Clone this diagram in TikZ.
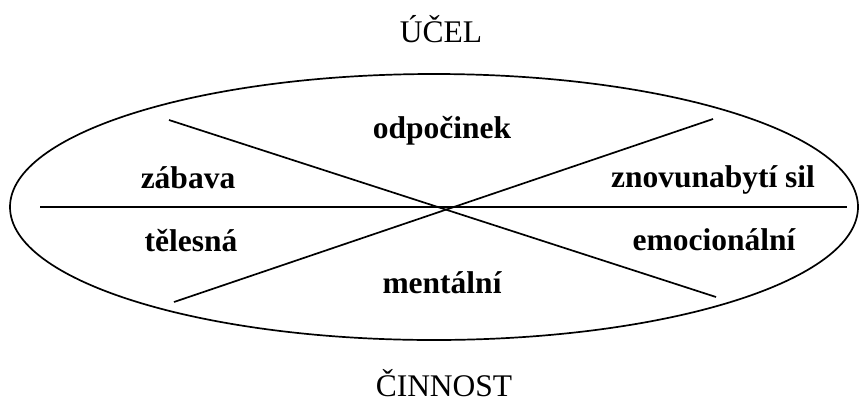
\documentclass[tikz,border=0pt]{standalone}
\usepackage{fontspec}
\setmainfont{Liberation Serif}
\begin{document}
\begin{tikzpicture}[x=1pt,y=-1pt,
  line/.style={line width=1.7pt, line cap=butt},
  lab/.style={anchor=base, inner sep=0pt, font=\fontsize{31.5}{36}\selectfont\bfseries},
  title/.style={anchor=base, inner sep=0pt, font=\fontsize{31.5}{36}\selectfont}]
\useasboundingbox (0,0) rectangle (859,400);
% ellipse
\coordinate (c) at (434,207);
\draw[line] (c) ellipse [x radius=424, y radius=133];
% dividing lines
\coordinate (hL) at (40,207);
\coordinate (hR) at (847,207);
\coordinate (d1a) at (169,120);
\coordinate (d1b) at (716,297);
\coordinate (d2a) at (174,302);
\coordinate (d2b) at (713,119);
\draw[line] (hL) -- (hR);
\draw[line] (d1a) -- (d1b);
\draw[line] (d2a) -- (d2b);
% titles
\node[title] (ucel) at (441,42) {ÚČEL};
\node[title] (cinnost) at (444,396) {ČINNOST};
% labels
\node[lab] (odp) at (442,138) {odpočinek};
\node[lab] (men) at (442,293) {mentální};
\node[lab] (zab) at (188,188) {zábava};
\node[lab] (tel) at (191,251) {tělesná};
\node[lab] (zno) at (713,187) {znovunabytí sil};
\node[lab] (emo) at (714,250) {emocionální};
\end{tikzpicture}
\end{document}
